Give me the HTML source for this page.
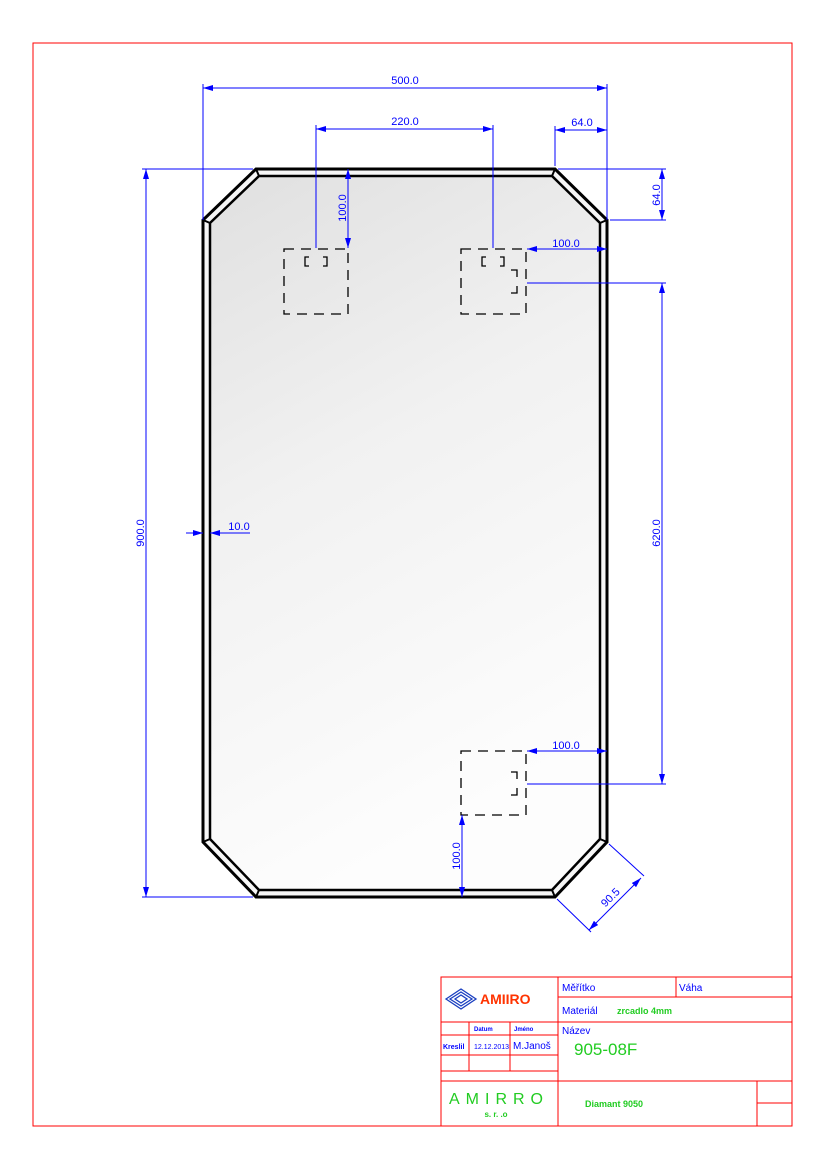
<!DOCTYPE html>
<html><head><meta charset="utf-8"><style>
html,body{margin:0;padding:0;background:#fff;}
svg{display:block;}
text{font-family:"Liberation Sans",sans-serif;}
</style></head><body>
<svg width="826" height="1169" viewBox="0 0 826 1169" xmlns="http://www.w3.org/2000/svg">
<defs>
<linearGradient id="g" x1="0" y1="0" x2="0.3" y2="1">
<stop offset="0" stop-color="#e0e0e0"/><stop offset="0.45" stop-color="#f1f1f1"/><stop offset="1" stop-color="#fdfdfd"/>
</linearGradient>
<marker id="a" viewBox="0 0 10 6" refX="10" refY="3" markerWidth="10" markerHeight="6" orient="auto-start-reverse" markerUnits="userSpaceOnUse"><path d="M0,0 L10,3 L0,6 z" fill="#0000ff"/></marker>
</defs>
<rect x="33" y="43" width="759" height="1083" fill="none" stroke="#ff0000" stroke-width="1"/>

<polygon points="256,169 555,169 607,220 607,842 555,897 256,897 203,842 203,220" fill="#f6f6f6" stroke="#000" stroke-width="3"/>
<polygon points="259,176 552,176 600,223 600,839 552,890 259,890 210,839 210,223" fill="url(#g)" stroke="#000" stroke-width="2.5"/>
<g stroke="#000" stroke-width="2">
<line x1="256" y1="169" x2="259" y2="176"/><line x1="555" y1="169" x2="552" y2="176"/>
<line x1="607" y1="220" x2="600" y2="223"/><line x1="607" y1="842" x2="600" y2="839"/>
<line x1="555" y1="897" x2="552" y2="890"/><line x1="256" y1="897" x2="259" y2="890"/>
<line x1="203" y1="842" x2="210" y2="839"/><line x1="203" y1="220" x2="210" y2="223"/>
</g>

<g fill="none" stroke="#000" stroke-width="1.3" stroke-dasharray="10,7">
<rect x="284" y="249" width="64" height="65"/>
<rect x="461" y="249" width="65" height="65"/>
<rect x="461" y="751" width="65" height="64"/>
</g>
<g fill="none" stroke="#000" stroke-width="1.3">
<path d="M309,257 h-4 v9 h4 M323,257 h4 v9 h-4"/>
<path d="M486,257 h-4 v9 h4 M500,257 h4 v9 h-4"/>
<path d="M511,270 h6 v7 M517,286 v7 h-6"/>
<path d="M511,772 h6 v7 M517,788 v7 h-6"/>
</g>

<g stroke="#0000ff" stroke-width="1" fill="none">
<line x1="203" y1="84" x2="203" y2="220"/><line x1="607" y1="84" x2="607" y2="220"/>
<line x1="203" y1="88" x2="607" y2="88" marker-start="url(#a)" marker-end="url(#a)"/>
<line x1="316" y1="125" x2="316" y2="248"/><line x1="493" y1="125" x2="493" y2="248"/>
<line x1="316" y1="129" x2="493" y2="129" marker-start="url(#a)" marker-end="url(#a)"/>
<line x1="555" y1="126" x2="555" y2="166"/>
<line x1="555" y1="130" x2="607" y2="130" marker-start="url(#a)" marker-end="url(#a)"/>
<line x1="558" y1="169" x2="666" y2="169"/><line x1="610" y1="220" x2="666" y2="220"/>
<line x1="662" y1="169" x2="662" y2="220" marker-start="url(#a)" marker-end="url(#a)"/>
<line x1="142" y1="169" x2="253" y2="169"/><line x1="142" y1="897" x2="253" y2="897"/>
<line x1="146" y1="169" x2="146" y2="897" marker-start="url(#a)" marker-end="url(#a)"/>
<line x1="348" y1="169" x2="348" y2="248" marker-start="url(#a)" marker-end="url(#a)"/>
<line x1="186" y1="533" x2="203" y2="533" marker-end="url(#a)"/>
<line x1="250" y1="533" x2="210" y2="533" marker-end="url(#a)"/>
<line x1="527" y1="249" x2="607" y2="249" marker-start="url(#a)" marker-end="url(#a)"/>
<line x1="527" y1="283" x2="666" y2="283"/><line x1="527" y1="784" x2="666" y2="784"/>
<line x1="662" y1="283" x2="662" y2="784" marker-start="url(#a)" marker-end="url(#a)"/>
<line x1="527" y1="751" x2="607" y2="751" marker-start="url(#a)" marker-end="url(#a)"/>
<line x1="462" y1="815" x2="462" y2="897" marker-start="url(#a)" marker-end="url(#a)"/>
<line x1="609" y1="844" x2="644" y2="876"/><line x1="557" y1="899" x2="591" y2="932"/>
<line x1="641" y1="878" x2="589" y2="930" marker-start="url(#a)" marker-end="url(#a)"/>
</g>
<g fill="#0000ff" font-size="11">
<text x="405" y="84" text-anchor="middle">500.0</text>
<text x="405" y="125" text-anchor="middle">220.0</text>
<text x="582" y="126" text-anchor="middle">64.0</text>
<text x="566" y="247" text-anchor="middle">100.0</text>
<text x="566" y="749" text-anchor="middle">100.0</text>
<text x="239" y="530" text-anchor="middle">10.0</text>
<text transform="translate(660,195) rotate(-90)" text-anchor="middle">64.0</text>
<text transform="translate(144,533) rotate(-90)" text-anchor="middle">900.0</text>
<text transform="translate(346,208) rotate(-90)" text-anchor="middle">100.0</text>
<text transform="translate(660,533) rotate(-90)" text-anchor="middle">620.0</text>
<text transform="translate(460,856) rotate(-90)" text-anchor="middle">100.0</text>
<text transform="translate(613,900) rotate(-45)" text-anchor="middle">90.5</text>
</g>

<g stroke="#ff0000" stroke-width="1" fill="none">
<rect x="441" y="977" width="351" height="149"/>
<line x1="558" y1="977" x2="558" y2="1126"/>
<line x1="676" y1="977" x2="676" y2="997"/>
<line x1="558" y1="997" x2="792" y2="997"/>
<line x1="441" y1="1022" x2="792" y2="1022"/>
<line x1="441" y1="1081" x2="792" y2="1081"/>
<line x1="441" y1="1035" x2="558" y2="1035"/>
<line x1="441" y1="1055" x2="558" y2="1055"/>
<line x1="441" y1="1071" x2="558" y2="1071"/>
<line x1="469" y1="1022" x2="469" y2="1071"/>
<line x1="510" y1="1022" x2="510" y2="1071"/>
<line x1="757" y1="1081" x2="757" y2="1126"/>
<line x1="757" y1="1103" x2="792" y2="1103"/>
</g>
<g stroke="#1a3fc0" stroke-width="1.3" fill="none">
<polygon points="446,999 461,989 476,999 461,1009"/>
<polygon points="450,999 461,992 472,999 461,1006"/>
<polygon points="455,999 461,995 467,999 461,1003"/>
</g>
<text x="480" y="1004" font-family="Liberation Serif,serif" font-size="14" font-weight="bold" fill="#ff3300">AMIIRO</text>
<g fill="#0000ff">
<text x="562" y="991" font-size="10">Měřítko</text>
<text x="679" y="991" font-size="10">Váha</text>
<text x="562" y="1014" font-size="10">Materiál</text>
<text x="562" y="1034" font-size="10">Název</text>
<text x="474" y="1031" font-size="6" font-weight="bold">Datum</text>
<text x="514" y="1031" font-size="6" font-weight="bold">Jméno</text>
<text x="443" y="1049" font-size="7" font-weight="bold">Kreslil</text>
<text x="474" y="1049" font-size="7">12.12.2013</text>
<text x="513" y="1049" font-size="10">M.Janoš</text>
</g>
<g fill="#22cc22">
<text x="617" y="1014" font-size="9" font-weight="bold">zrcadlo 4mm</text>
<text x="574" y="1055" font-size="17">905-08F</text>
<text x="585" y="1107" font-size="9" font-weight="bold">Diamant 9050</text>
<text x="499" y="1104" font-size="16" text-anchor="middle" letter-spacing="6">AMIRRO</text>
<text x="496" y="1117" font-size="8" font-weight="bold" text-anchor="middle">s. r. .o</text>
</g>
</svg>
</body></html>
